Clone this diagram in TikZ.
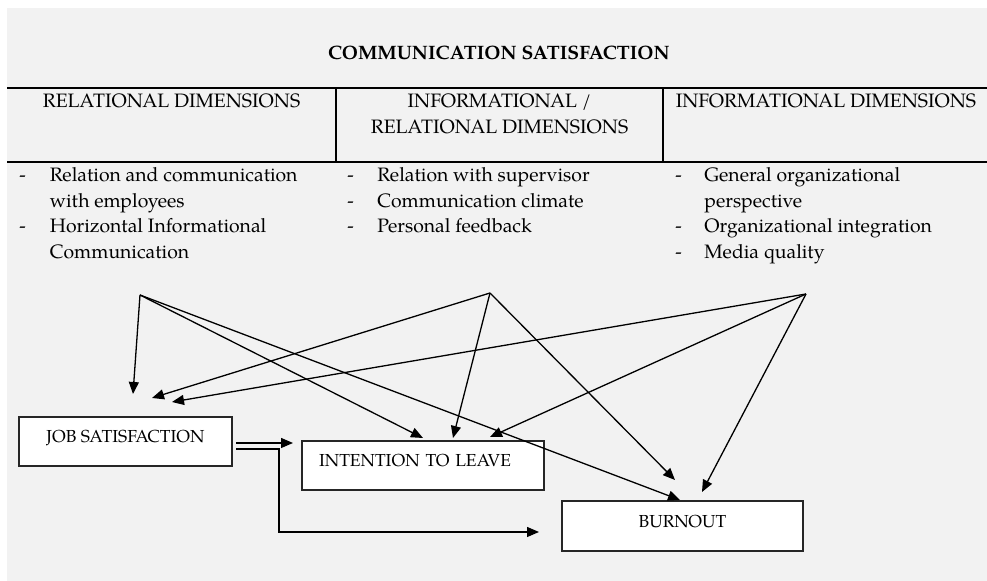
\documentclass[tikz,border=0pt]{standalone}
\usepackage{fontspec}
\setmainfont{TeX Gyre Pagella}
\usetikzlibrary{arrows.meta}
\definecolor{panel}{RGB}{242,242,242}
\tikzset{
box/.style={draw=black!85,line width=0.9pt,fill=white,text depth=5pt,inner sep=0pt,font=\fontsize{8.7}{10}\selectfont},
arr/.style={line width=0.65pt,-{Triangle[length=6pt,width=5pt]}},
rule/.style={line width=1.1pt}
}
\begin{document}
\begin{tikzpicture}[x=0.5pt,y=-0.5pt,inner sep=0pt]
\fontsize{9.7}{12.75}\selectfont
\useasboundingbox (0,0) rectangle (987,581);
\fill[panel] (7,8) rectangle (987,581);
\draw[rule] (7,88) -- (987,88) (7,162) -- (987,162) (336,88) -- (336,162) (663,88) -- (663,162);
\node[anchor=base,font=\bfseries] (title) at (499,60) {COMMUNICATION SATISFACTION};
\node[anchor=base] (relhead) at (171.5,108) {RELATIONAL DIMENSIONS};
\node[anchor=base] (mixhead) at (499.5,108) {\begin{tabular}[t]{@{}c@{}}INFORMATIONAL /\\RELATIONAL DIMENSIONS\end{tabular}};
\node[anchor=base] (infohead) at (826,108) {INFORMATIONAL DIMENSIONS};
\node[anchor=base west] (rellist) at (19,182) {\begin{tabular}[t]{@{}p{15.25pt}@{}l@{}}
- & Relation and communication\\ & with employees\\ - & Horizontal Informational\\ & Communication\end{tabular}};
\node[anchor=base west] (mixlist) at (347,182) {\begin{tabular}[t]{@{}p{15pt}@{}l@{}}
- & Relation with supervisor\\ - & Communication climate\\ - & Personal feedback\end{tabular}};
\node[anchor=base west] (infolist) at (675,182) {\begin{tabular}[t]{@{}p{14.5pt}@{}l@{}}
- & General organizational\\ & perspective\\ - & Organizational integration\\ - & Media quality\end{tabular}};
\node[box,minimum width=106.5pt,minimum height=24.5pt] (js) at (125.5,441.5) {JOB SATISFACTION};
\node[box,minimum width=121pt,minimum height=24.5pt,text width=104pt,align=left] (itl) at (423,465.5) {INTENTION TO LEAVE};
\node[box,minimum width=120.5pt,minimum height=25pt] (bo) at (682.5,526) {BURNOUT};
\coordinate (relsrc) at (140,295);
\coordinate (mixsrc) at (490,293);
\coordinate (infosrc) at (806,294);
\coordinate (js-a) at (133,394);
\coordinate (js-b) at (152,398);
\coordinate (js-c) at (172,402);
\coordinate (itl-a) at (423,438);
\coordinate (itl-b) at (453,438);
\coordinate (itl-c) at (490,437);
\coordinate (bo-a) at (680,500);
\coordinate (bo-b) at (675,480);
\coordinate (bo-c) at (702,492);
\coordinate (js-out1) at (236,443);
\coordinate (js-out2) at (236,449);
\coordinate (itl-d) at (293,443);
\coordinate (elbow) at (279,532);
\coordinate (bo-d) at (539,532);
\foreach \s/\t in {relsrc/js-a,relsrc/itl-a,relsrc/bo-a,mixsrc/js-b,mixsrc/itl-b,mixsrc/bo-b,infosrc/js-c,infosrc/itl-c,infosrc/bo-c}
  \draw[arr] (\s) -- (\t);
\draw[arr] (js-out1) -- (itl-d);
\draw[arr] (js-out2) -| (elbow) -- (bo-d);
\end{tikzpicture}
\end{document}
